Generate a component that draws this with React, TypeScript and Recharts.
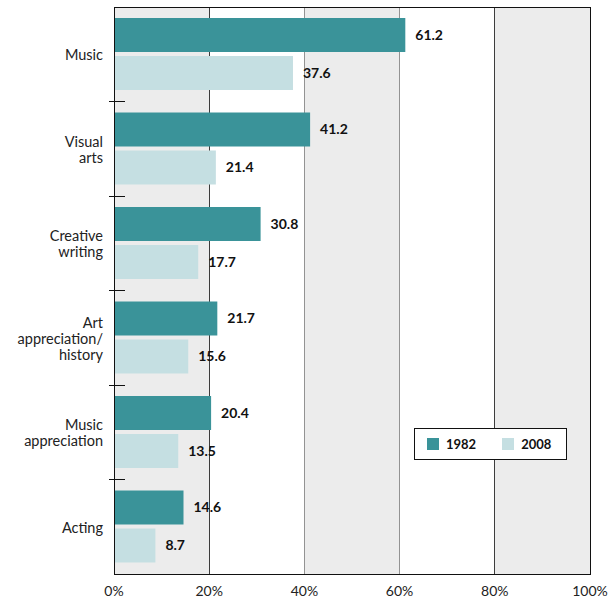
import React from "react";
import {
  BarChart,
  Bar,
  XAxis,
  YAxis,
  CartesianGrid,
  ReferenceArea,
  LabelList,
} from "recharts";

const categories = [
  "Music",
  "Visual\narts",
  "Creative\nwriting",
  "Art\nappreciation/\nhistory",
  "Music\nappreciation",
  "Acting",
];
const values1982 = [61.2, 41.2, 30.8, 21.7, 20.4, 14.6];
const values2008 = [37.6, 21.4, 17.7, 15.6, 13.5, 8.7];
const xTicks = [0, 20, 40, 60, 80, 100];
const shadedBands: [number, number][] = [
  [0, 20],
  [40, 60],
  [80, 100],
];

const COLOR_1982 = "#3a9399";
const COLOR_2008 = "#c5dfe2";
const FONT = "Lato, 'Open Sans', sans-serif";

const data = categories.map((c, i) => ({
  name: c,
  y1982: values1982[i],
  y2008: values2008[i],
}));

const CHART_H = 600;
const MARGIN = { top: 7, right: 26, left: 0, bottom: 0 };
const X_AXIS_H = 26;
const bandSize = (CHART_H - MARGIN.top - MARGIN.bottom - X_AXIS_H) / categories.length;

const CategoryTick = (props: any) => {
  const { x, y, payload, index } = props;
  const lines = String(payload.value).split("\n");
  const lh = 16;
  const startY = y - ((lines.length - 1) * lh) / 2;
  const axisX = x + 12;
  const tx = x - 3;
  return (
    <g>
      <text
        x={tx}
        y={startY}
        textAnchor="end"
        dominantBaseline="central"
        fontFamily={FONT}
        fontSize={14.5}
        fill="#222"
      >
        {lines.map((l, i) => (
          <tspan key={i} x={tx} dy={i === 0 ? 0 : lh}>
            {l}
          </tspan>
        ))}
      </text>
      {index < categories.length - 1 && (
        <line
          x1={axisX - 9}
          x2={axisX + 7}
          y1={y + bandSize / 2}
          y2={y + bandSize / 2}
          stroke="#111"
          strokeWidth={1}
          shapeRendering="crispEdges"
        />
      )}
    </g>
  );
};

const LegendBox = () => (
  <div
    style={{
      position: "absolute",
      left: 414,
      top: 428,
      border: "1px solid #111",
      background: "#fff",
      width: 153,
      height: 32,
      display: "flex",
      alignItems: "center",
      fontFamily: FONT,
      fontWeight: 700,
      fontSize: 13,
      color: "#111",
      boxSizing: "border-box",
    }}
  >
    {[
      ["1982", COLOR_1982],
      ["2008", COLOR_2008],
    ].map(([label, color], i) => (
      <div
        key={label}
        style={{
          display: "flex",
          alignItems: "center",
          marginLeft: i === 0 ? 12 : 26,
        }}
      >
        <span
          style={{
            display: "inline-block",
            width: 12,
            height: 12,
            background: color,
            marginRight: 7,
          }}
        />
        <span>{label}</span>
      </div>
    ))}
  </div>
);

export default function App() {
  return (
    <div style={{ position: "absolute", left: 0, top: 0, width: 616, height: 600, background: "#fff" }}>
      <BarChart
        width={616}
        height={CHART_H}
        data={data}
        layout="vertical"
        margin={MARGIN}
        barSize={34}
        barGap={4}
      >
        {shadedBands.map(([a, b]) => (
          <ReferenceArea key={a} x1={a} x2={b} fill="#ececec" fillOpacity={1} stroke="none" />
        ))}
        <CartesianGrid
          horizontal={false}
          vertical
          stroke="#111"
          strokeOpacity={1}
          shapeRendering="crispEdges"
        />
        <ReferenceArea
          x1={0}
          x2={100}
          fill="none"
          stroke="#111"
          strokeOpacity={1}
          strokeWidth={1}
          shapeRendering="crispEdges"
        />
        <XAxis
          type="number"
          domain={[0, 100]}
          ticks={xTicks}
          tickFormatter={(v) => `${v}%`}
          height={X_AXIS_H}
          axisLine={{ stroke: "#111", shapeRendering: "crispEdges" }}
          tickLine={false}
          tickMargin={6}
          tick={{ fontFamily: FONT, fontSize: 14, fill: "#222" }}
          interval={0}
        />
        <YAxis
          type="category"
          dataKey="name"
          width={114}
          axisLine={{ stroke: "#111", shapeRendering: "crispEdges" }}
          tickLine={false}
          tick={<CategoryTick />}
          interval={0}
        />
        <Bar dataKey="y1982" fill={COLOR_1982} isAnimationActive={false}>
          <LabelList
            dataKey="y1982"
            position="right"
            offset={10}
            style={{ fontFamily: FONT, fontSize: 14, fontWeight: 700, fill: "#111" }}
          />
        </Bar>
        <Bar dataKey="y2008" fill={COLOR_2008} isAnimationActive={false}>
          <LabelList
            dataKey="y2008"
            position="right"
            offset={10}
            style={{ fontFamily: FONT, fontSize: 14, fontWeight: 700, fill: "#111" }}
          />
        </Bar>
      </BarChart>
      <LegendBox />
    </div>
  );
}
